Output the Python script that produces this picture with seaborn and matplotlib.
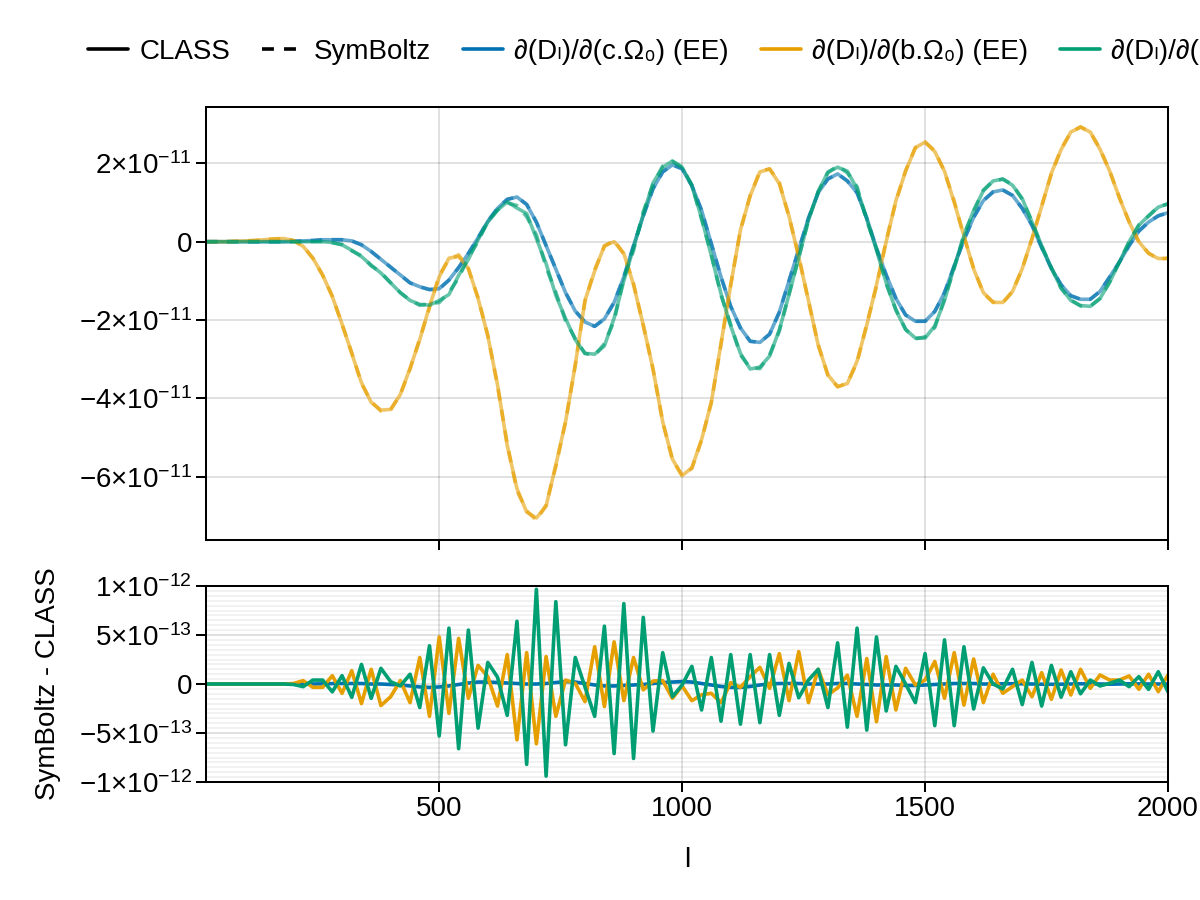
import numpy as np
import matplotlib
matplotlib.use("Agg")
import matplotlib.pyplot as plt
from matplotlib.lines import Line2D
from matplotlib.ticker import FixedLocator, FixedFormatter, AutoMinorLocator
import seaborn as sns

# ---------------- data ----------------
ell = np.arange(20, 2001, 20)  # multipoles l

# top panel: dD_l/dparam, in units of 1e-11 (CLASS)
dcdm_ee = [0, 0, 0, 0, 0, 0, 0, 0, 0, 0.01,
           0.02, 0.03, 0.05, 0.05, 0.05, 0.02, -0.08, -0.25, -0.45, -0.65,
           -0.85, -1.05, -1.15, -1.22, -1.2, -0.98, -0.66, -0.3, 0.1, 0.52,
           0.85, 1.08, 1.14, 0.95, 0.5, -0.1, -0.7, -1.3, -1.77, -2.05,
           -2.16, -1.97, -1.55, -0.9, -0.1, 0.66, 1.35, 1.78, 1.96, 1.86,
           1.43, 0.8, -0.05, -0.9, -1.65, -2.2, -2.54, -2.57, -2.36, -1.8,
           -1.0, -0.2, 0.6, 1.25, 1.6, 1.73, 1.55, 1.25, 0.6, -0.17,
           -0.85, -1.45, -1.87, -2.03, -2.03, -1.78, -1.3, -0.62, 0.05, 0.62,
           1.05, 1.27, 1.32, 1.18, 0.85, 0.42, -0.15, -0.68, -1.1, -1.38,
           -1.47, -1.47, -1.27, -0.9, -0.52, -0.1, 0.27, 0.5, 0.66, 0.74]

dbar_ee = [0, 0, 0, 0.01, 0.02, 0.03, 0.05, 0.07, 0.08, 0.03,
           -0.12, -0.42, -0.85, -1.4, -2.1, -2.85, -3.6, -4.1, -4.3, -4.28,
           -3.9, -3.23, -2.5, -1.65, -0.9, -0.42, -0.38, -0.68, -1.45, -2.4,
           -3.65, -5.2, -6.3, -6.9, -7.05, -6.75, -5.7, -4.6, -3.15, -1.5,
           -0.75, -0.1, 0.0, -0.3, -1.1, -2.13, -3.25, -4.6, -5.55, -5.97,
           -5.77, -5.05, -4.1, -2.6, -1.1, 0.3, 1.17, 1.78, 1.86, 1.48,
           0.65, -0.4, -1.5, -2.64, -3.4, -3.7, -3.62, -3.05, -2.13, -1.1,
           0.0, 1.05, 1.8, 2.4, 2.54, 2.3, 1.8, 1.0, 0.15, -0.7,
           -1.3, -1.55, -1.55, -1.27, -0.69, 0.08, 0.9, 1.75, 2.35, 2.8,
           2.92, 2.8, 2.36, 1.8, 1.12, 0.5, 0.0, -0.3, -0.43, -0.43]

dh_ee = [0, 0, 0, 0, 0, 0, 0, 0, 0, 0,
         0, 0, 0, -0.02, -0.08, -0.22, -0.38, -0.6, -0.8, -1.05,
         -1.3, -1.5, -1.6, -1.62, -1.5, -1.35, -0.86, -0.45, 0.05, 0.5,
         0.8, 1.02, 0.86, 0.72, 0.08, -0.56, -1.37, -1.96, -2.5, -2.85,
         -2.87, -2.66, -1.95, -1.0, -0.15, 0.7, 1.5, 1.9, 2.06, 1.9,
         1.43, 0.6, -0.35, -1.33, -2.15, -2.85, -3.25, -3.2, -2.92, -2.25,
         -1.35, -0.4, 0.55, 1.27, 1.78, 1.9, 1.8, 1.35, 0.58, -0.22,
         -1.05, -1.75, -2.24, -2.46, -2.46, -2.15, -1.5, -0.64, 0.15, 0.8,
         1.3, 1.55, 1.6, 1.44, 1.1, 0.5, -0.1, -0.68, -1.18, -1.5,
         -1.63, -1.65, -1.45, -1.03, -0.52, 0.0, 0.42, 0.66, 0.88, 0.97]

# bottom panel: SymBoltz - CLASS, in units of 1e-13
diff_cdm = [0, 0, 0, 0, 0, 0, 0, 0, 0, 0,
            0, 0, 0.02, 0.04, 0.05, 0.05, 0.05, 0.0, 0.0, -0.05,
            -0.1, -0.2, -0.3, -0.35, -0.3, -0.2, -0.05, 0.1, 0.2, 0.2,
            0.15, 0.1, 0.05, 0.0, 0.0, 0.05, 0.15, 0.25, 0.2, 0.05,
            -0.1, -0.2, -0.2, -0.15, -0.1, -0.05, 0.05, 0.15, 0.2, 0.25,
            0.2, 0.05, -0.1, -0.25, -0.35, -0.35, -0.25, -0.1, 0.0, 0.05,
            0.05, 0.05, 0.0, 0.0, 0.0, 0.05, 0.05, 0.0, -0.05, -0.1,
            -0.1, -0.1, -0.15, -0.15, -0.1, -0.05, 0.0, 0.05, 0.05, 0.05,
            0.0, 0.0, 0.02, 0.03, 0.02, 0.0, -0.02, -0.03, -0.02, 0.0,
            0.02, 0.02, 0.0, -0.02, 0.0, 0.02, 0.01, 0.0, 0.0, 0.0]

diff_bar = [0, 0, 0, 0, 0, 0, 0, 0, 0, 0.05,
            0.34, -0.34, -0.34, 0.85, -0.95, 1.36, -2.0, 1.5, -2.2, -1.3,
            0.34, -1.9, 2.7, -3.3, 4.8, -3.0, 4.65, -1.46, 1.9, 0.75,
            -2.25, 3.0, -5.7, 3.2, -6.1, 2.8, -3.3, 0.4, 0.07, -1.8,
            3.8, -2.3, 4.3, -1.7, 2.7, -0.6, 0.3, 0.34, -1.46, -0.2,
            -1.7, -1.1, -0.95, -1.9, 0.14, -0.34, 0.75, 1.7, -0.44, 3.1,
            -1.7, 3.3, -1.9, 1.5, -1.1, -0.4, 0.9, -3.3, 2.6, -3.85,
            2.8, -2.65, 1.6, -0.1, 0.4, 2.3, -1.46, 3.2, -2.15, 2.55,
            -1.9, 1.0, -0.95, -0.27, 0.4, -1.3, 1.15, -1.56, 1.43, -1.12,
            1.5, -0.44, 0.92, 0.4, 0.4, 0.82, -0.54, 1.0, -0.78, 0.92]

diff_h = [0, 0, 0, 0, 0, 0, 0, 0, 0, -0.05,
          -0.27, 0.4, 0.4, -0.8, 0.85, -1.36, 2.0, -1.46, 1.6, 0.24,
          -0.2, 1.0, -2.4, 3.9, -5.3, 5.7, -6.6, 5.5, -4.5, 2.2,
          0.7, -3.2, 6.4, -8.2, 9.66, -9.4, 8.4, -6.2, 2.7, -0.3,
          -3.3, 5.9, -7.1, 8.2, -7.6, 6.8, -4.8, 3.2, -1.3, -0.1,
          1.8, -2.65, 2.7, -3.8, 3.0, -4.1, 3.0, -3.95, 3.0, -3.2,
          2.1, -1.4, 0.4, 1.5, -2.4, 4.2, -4.4, 5.7, -4.7, 4.8,
          -2.75, 1.8, 0.0, -1.9, 3.1, -4.25, 4.5, -4.25, 3.8, -2.55,
          1.65, 0.0, -0.5, 1.5, -2.1, 2.2, -2.25, 1.9, -1.35, 1.25,
          -1.0, 0.4, -0.2, 0.07, 0.4, -0.27, 0.75, -0.55, 1.25, -0.8]

series_labels = ["∂(Dₗ)/∂(c.Ω₀) (EE)", "∂(Dₗ)/∂(b.Ω₀) (EE)", "∂(Dₗ)/∂(g.h) (EE)"]
code_labels = ["CLASS", "SymBoltz"]
top_scale = 1e-11
bot_scale = 1e-13

top_yticks = [-6e-11, -4e-11, -2e-11, 0.0, 2e-11]
top_yticklabels = [r"$-6{\times}10^{-11}$", r"$-4{\times}10^{-11}$", r"$-2{\times}10^{-11}$", "0", r"$2{\times}10^{-11}$"]
bot_yticks = [-1e-12, -5e-13, 0.0, 5e-13, 1e-12]
bot_yticklabels = [r"$-1{\times}10^{-12}$", r"$-5{\times}10^{-13}$", "0", r"$5{\times}10^{-13}$", r"$1{\times}10^{-12}$"]
xticks = [500, 1000, 1500, 2000]
xticklabels = ["500", "1000", "1500", "2000"]

# ---------------- style ----------------
sns.set_theme(style="ticks")
plt.rcParams["font.family"] = ["Liberation Sans", "DejaVu Sans"]
plt.rcParams["mathtext.fontset"] = "custom"
plt.rcParams["mathtext.rm"] = "Liberation Sans"
plt.rcParams["mathtext.it"] = "Liberation Sans:italic"
plt.rcParams["mathtext.bf"] = "Liberation Sans:bold"
plt.rcParams["font.size"] = 20
plt.rcParams["axes.unicode_minus"] = True
plt.rcParams["text.color"] = "black"
plt.rcParams["axes.labelcolor"] = "black"
plt.rcParams["xtick.color"] = "black"
plt.rcParams["ytick.color"] = "black"

colors = ["#0072B2", "#E69F00", "#009E73"]
lw = 2.6
dash = (0, (3.2, 2.6))

fig = plt.figure(figsize=(12, 9), dpi=100)
L, R = 206 / 1200, 1168 / 1200
ax1 = fig.add_axes([L, 1 - 540 / 900, R - L, (540 - 107) / 900])
ax2 = fig.add_axes([L, 1 - 782 / 900, R - L, (782 - 586) / 900], sharex=ax1)

top_data = [dcdm_ee, dbar_ee, dh_ee]
bot_data = [diff_cdm, diff_bar, diff_h]

for vals, dvals, c in zip(top_data, bot_data, colors):
    cls = np.asarray(vals) * top_scale
    sym = cls + np.asarray(dvals) * bot_scale
    sns.lineplot(x=ell, y=cls, ax=ax1, color=c, linewidth=lw, alpha=0.6)
    sns.lineplot(x=ell, y=sym, ax=ax1, color=c, linewidth=lw, alpha=0.6, linestyle=dash)

for dvals, c in zip(bot_data, colors):
    sns.lineplot(x=ell, y=np.asarray(dvals) * bot_scale, ax=ax2, color=c, linewidth=lw)

ax1.set_xlim(ell[0], ell[-1])
ax1.margins(y=0.05)
ax2.set_ylim(-1e-12, 1e-12)

for ax in (ax1, ax2):
    ax.set_facecolor("white")
    for s in ax.spines.values():
        s.set_visible(True)
        s.set_color("black")
        s.set_linewidth(1.45)
    ax.tick_params(which="major", direction="out", length=7, width=1.45,
                   color="black", labelsize=20, pad=3, labelcolor="black")
    ax.grid(True, which="major", color="black", alpha=0.12, linewidth=1.4)
    ax.set_axisbelow(True)
    ax.xaxis.set_major_locator(FixedLocator(xticks))
    ax.xaxis.set_major_formatter(FixedFormatter(xticklabels))
    ax.set_xlabel("")
    ax.set_ylabel("")

ax1.yaxis.set_major_locator(FixedLocator(top_yticks))
ax1.yaxis.set_major_formatter(FixedFormatter(top_yticklabels))
ax1.tick_params(labelbottom=False)

ax2.yaxis.set_major_locator(FixedLocator(bot_yticks))
ax2.yaxis.set_major_formatter(FixedFormatter(bot_yticklabels))
ax2.yaxis.set_minor_locator(AutoMinorLocator(10))
ax2.tick_params(which="minor", length=0)
ax2.grid(True, which="minor", axis="y", color="black", alpha=0.05, linewidth=1.4)
ax2.set_xlim(ell[0], ell[-1])

ax2.set_xlabel("l", fontsize=20, labelpad=18, color="black")
ax2.set_ylabel("SymBoltz - CLASS", fontsize=20, labelpad=13, color="black")

handles = [Line2D([], [], color="black", lw=lw),
           Line2D([], [], color="black", lw=lw, linestyle=(0, (3.3, 2.8)))]
handles += [Line2D([], [], color=c, lw=lw) for c in colors]
labels = code_labels + series_labels
leg = fig.legend(handles, labels, loc="center left", bbox_to_anchor=(88 / 1200, 1 - 52 / 900),
                 ncol=5, frameon=False, fontsize=20, handlelength=1.45, handletextpad=0.4,
                 columnspacing=1.15, borderpad=0, borderaxespad=0)
for t in leg.get_texts():
    t.set_color("black")

fig.savefig("out.png", dpi=100)
